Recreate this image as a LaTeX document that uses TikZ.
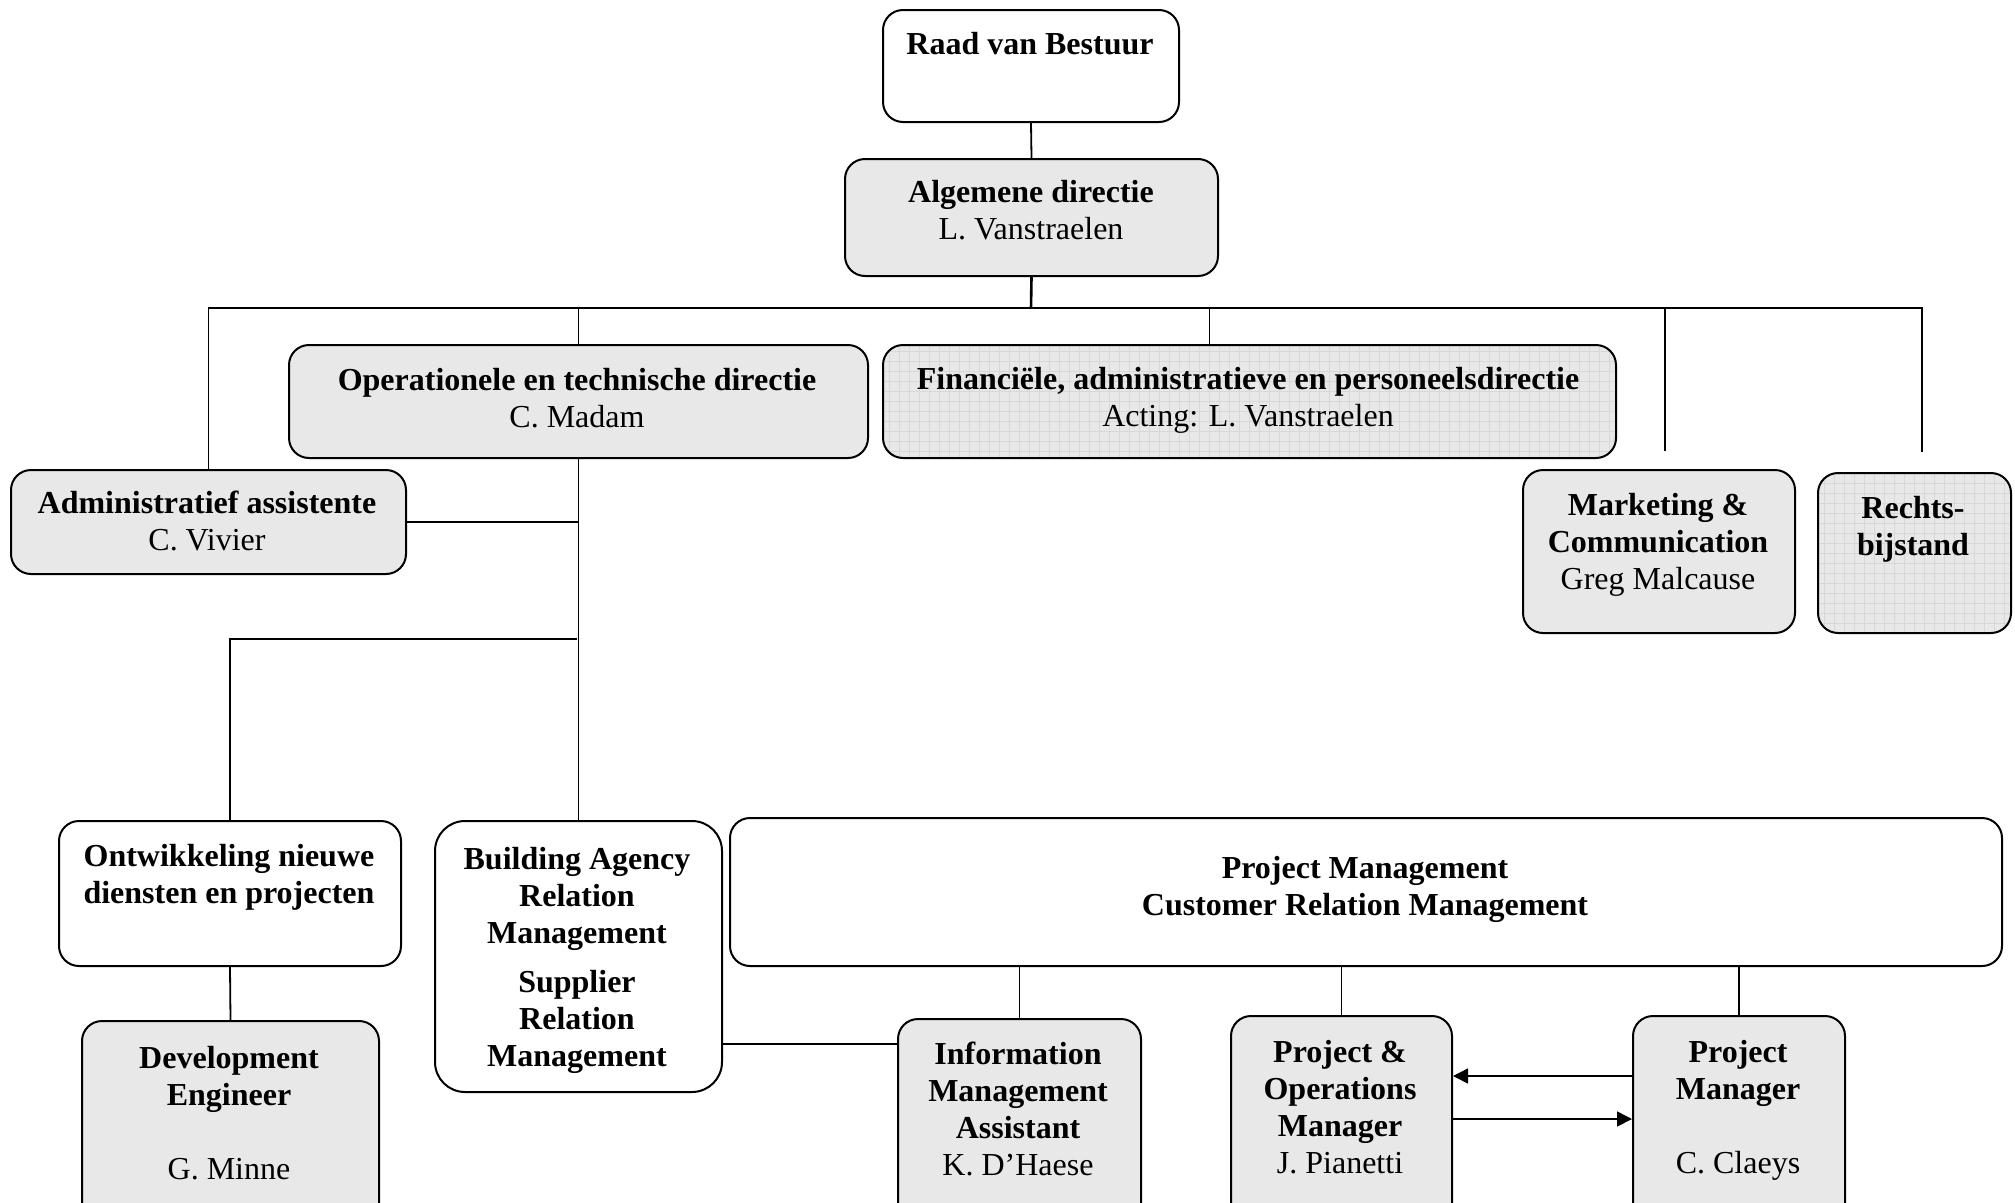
\documentclass[tikz,border=0pt]{standalone}
\usepackage{fontspec}
\setmainfont{Liberation Serif}
\usetikzlibrary{arrows.meta}
\definecolor{boxgray}{RGB}{232,232,232}
\definecolor{gridgray}{RGB}{216,216,216}
\begin{document}
\begin{tikzpicture}[x=1pt,y=-1pt,
  box/.style={draw=black, line width=2pt, rounded corners=20pt, anchor=north west, inner sep=0pt},
  shaded/.style={box, fill=boxgray},
  gridded/.style={box, fill=boxgray, path picture={\draw[gridgray, line width=0.6pt, step=10pt] (path picture bounding box.south west) grid (path picture bounding box.north east);}},
  plain/.style={box, fill=white},
  txt/.style={anchor=north, inner sep=0pt, align=center, font=\fontsize{32}{37}\selectfont},
  conn/.style={line width=1.8pt},
  arr/.style={line width=1.6pt, -{Triangle[length=15pt,width=15pt]}}]
\clip (0,0) rectangle (2015,1202);
\fill[white] (0,0) rectangle (2015,1202);

% boxes
\node[plain,  minimum width=296pt,  minimum height=112pt] (raad) at (882,9) {};
\node[shaded, minimum width=373pt,  minimum height=117pt] (alg)  at (844,158) {};
\node[shaded, minimum width=579pt,  minimum height=113pt] (oper) at (288,344) {};
\node[gridded,minimum width=733pt,  minimum height=113pt] (fin)  at (882,344) {};
\node[shaded, minimum width=395pt,  minimum height=104pt] (adm)  at (10,469) {};
\node[shaded, minimum width=272pt,  minimum height=163pt] (mkt)  at (1522,469) {};
\node[gridded,minimum width=193pt,  minimum height=160pt] (rb)   at (1817,472) {};
\node[plain,  minimum width=342pt,  minimum height=145pt] (ontw) at (58,820) {};
\node[plain,  minimum width=287pt,  minimum height=271pt, rounded corners=30pt] (bldg) at (434,820) {};
\node[plain,  minimum width=1272pt, minimum height=148pt] (pm)   at (729,817) {};
\node[shaded, minimum width=297pt,  minimum height=210pt] (dev)  at (81,1020) {};
\node[shaded, minimum width=243pt,  minimum height=212pt] (info) at (897,1018) {};
\node[shaded, minimum width=221pt,  minimum height=215pt] (po)   at (1230,1015) {};
\node[shaded, minimum width=212pt,  minimum height=215pt] (mgr)  at (1632,1015) {};

% texts (first baseline minus strut height 25.9)
\node[txt] (raadT) at (1030,28.1) {\strut\textbf{Raad van Bestuur}};
\node[txt] (algT)  at (1031,176.1) {\strut\textbf{Algemene directie}\\L. Vanstraelen};
\node[txt] (operT) at (577,364.1) {\strut\textbf{Operationele en technische directie}\\C. Madam};
\node[txt] (finT)  at (1248,363.1) {\strut\textbf{Financiële, administratieve en personeelsdirectie}\\Acting: L. Vanstraelen};
\node[txt] (admT)  at (207,487.1) {\strut\textbf{Administratief assistente}\\C. Vivier};
\node[txt] (mktT)  at (1658,489.1) {\strut\textbf{Marketing \&}\\\textbf{Communication}\\Greg Malcause};
\node[txt] (rbT)   at (1913,492.1) {\strut\textbf{Rechts-}\\\textbf{bijstand}};
\node[txt] (ontwT) at (229,840.1) {\strut\textbf{Ontwikkeling nieuwe}\\\textbf{diensten en projecten}};
\node[txt] (bldgT) at (577,843.1) {\strut\textbf{Building Agency}\\\textbf{Relation}\\\textbf{Management}\\[12pt]\textbf{Supplier}\\\textbf{Relation}\\\textbf{Management}};
\node[txt] (pmT)   at (1365,852.1) {\strut\textbf{Project Management}\\\textbf{Customer Relation Management}};
\node[txt] (devT)  at (229,1042.1) {\strut\textbf{Development}\\\textbf{Engineer}\\[37pt]G. Minne};
\node[txt] (infoT) at (1018,1038.1) {\strut\textbf{Information}\\\textbf{Management}\\\textbf{Assistant}\\K. D’Haese};
\node[txt] (poT)   at (1340,1036.1) {\strut\textbf{Project \&}\\\textbf{Operations}\\\textbf{Manager}\\J. Pianetti};
\node[txt] (mgrT)  at (1738,1036.1) {\strut\textbf{Project}\\\textbf{Manager}\\[37pt]C. Claeys};

% helper coordinates
\coordinate (bus)   at (1031,308);
\coordinate (mktEnd) at (1665,451);
\coordinate (rbEnd)  at (1922,452);
\coordinate (j1)     at (577,639);
\coordinate (bi)     at (721,1044);
\coordinate (a1)     at (1632,1076);
\coordinate (a2)     at (1451,1119);

% connectors
\draw[conn] (raad.south) -- (alg.north);
\draw[line width=2.6pt] (alg.south) -- (bus);
\draw[conn] (adm.north) |- (rbEnd |- bus) -- (rbEnd);
\draw[line width=2.6pt] (adm.north |- bus) -- (bus);
\draw[conn] (oper.north) -- (oper.north |- bus);
\draw[conn] ([xshift=-40pt]fin.north) -- ([xshift=-40pt]fin.north |- bus);
\draw[conn] (mktEnd) -- (mktEnd |- bus);
\draw[conn] (oper.south) -- (bldg.north);
\draw[conn] (adm.east) -- (adm.east -| oper.south);
\draw[conn] (j1) -| (ontw.north);
\draw[conn] (ontw.south) -- (dev.north);
\draw[conn] (bi) -- (bi -| info.west);
\draw[conn] (info.north) -- (info.north |- pm.south);
\draw[conn] (po.north) -- (po.north |- pm.south);
\draw[conn] (mgr.north) -- (mgr.north |- pm.south);
\draw[arr] (a1) -- (a1 -| po.east);
\draw[arr] (a2) -- (a2 -| mgr.west);
\end{tikzpicture}
\end{document}
